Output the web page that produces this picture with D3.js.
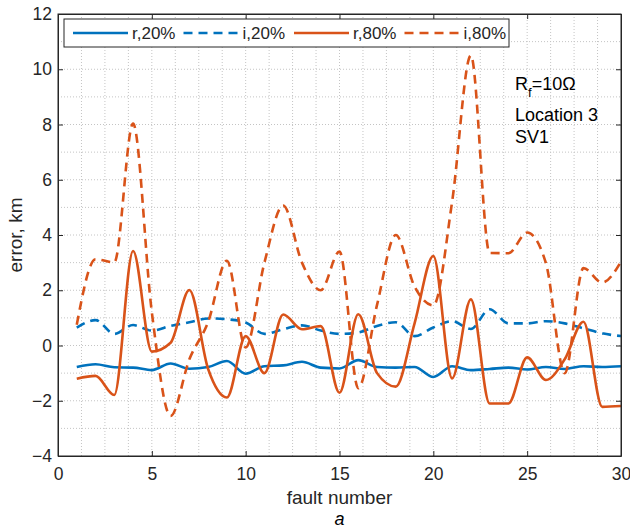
<!DOCTYPE html>
<html>
<head>
<meta charset="utf-8">
<script src="https://cdn.jsdelivr.net/npm/d3@7"></script>
<style>
  body { margin: 0; background: #fff; }
  svg { font-family: Arial, 'Liberation Sans', Helvetica, sans-serif; }
  .grid line { stroke: #c4c4c4; stroke-dasharray: 1,2; }
  .axis path, .axis line { stroke: #262626; }
  .axis text { fill: #262626; font-size: 17.5px; }
</style>
</head>
<body>
<svg width="630" height="531"></svg>
<script>
const FAULTS = [1, 2, 3, 4, 5, 6, 7, 8, 9, 10, 11, 12, 13, 14, 15, 16, 17, 18, 19, 20, 21, 22, 23, 24, 25, 26, 27, 28, 29, 30]
const R20 = [-0.78, -0.68, -0.79, -0.8, -0.89, -0.65, -0.84, -0.78, -0.56, -1.02, -0.75, -0.72, -0.59, -0.8, -0.83, -0.53, -0.78, -0.8, -0.78, -1.14, -0.75, -0.89, -0.85, -0.8, -0.87, -0.78, -0.85, -0.75, -0.78, -0.75]
const I20 = [0.65, 0.92, 0.42, 0.74, 0.54, 0.71, 0.84, 0.98, 0.95, 0.83, 0.42, 0.59, 0.73, 0.54, 0.42, 0.47, 0.71, 0.84, 0.34, 0.65, 0.88, 0.6, 1.31, 0.8, 0.8, 0.88, 0.8, 0.62, 0.44, 0.34]
const R80 = [-1.2, -1.1, -1.79, 3.42, -0.22, 0.1, 2.01, -0.85, -1.88, 0.34, -1.0, 1.12, 0.59, 0.7, -1.71, 1.13, -1.0, -1.49, 0.8, 3.24, -1.19, 1.67, -2.1, -2.1, -0.43, -1.25, -0.5, 0.86, -2.22, -2.19]
const I80 = [0.75, 3.12, 3.01, 8.03, 1.2, -2.55, -0.5, 0.85, 3.07, -0.07, 3.0, 5.07, 3.0, 2.0, 3.4, -1.55, 1.47, 4.0, 2.13, 1.45, 5.2, 10.5, 3.35, 3.34, 4.09, 2.98, -1.0, 2.8, 2.28, 3.04]

const X_TICKS = [0, 5, 10, 15, 20, 25, 30]
const Y_TICKS = [-4, -2, 0, 2, 4, 6, 8, 10, 12]
const X_MINOR = [1.25, 2.5, 3.75, 6.25, 7.5, 8.75, 11.25, 12.5, 13.75, 16.25, 17.5, 18.75, 21.25, 22.5, 23.75, 26.25, 27.5, 28.75]
const Y_MINOR = [-3, -1, 1, 3, 5, 7, 9, 11]

const BLUE = '#0072bd'
const ORANGE = '#d95319'

const SERIES = [
  { name: 'r,20%', values: R20, color: BLUE, dash: null },
  { name: 'i,20%', values: I20, color: BLUE, dash: '9,6' },
  { name: 'r,80%', values: R80, color: ORANGE, dash: null },
  { name: 'i,80%', values: I80, color: ORANGE, dash: '9,6' }
]

const margin = { top: 14, right: 9, bottom: 75, left: 58 }
const svg = d3.select('svg')
const width = +svg.attr('width') - margin.left - margin.right
const height = +svg.attr('height') - margin.top - margin.bottom

const x = d3.scaleLinear().domain([0, 30]).range([0, width])
const y = d3.scaleLinear().domain([-4, 12]).range([height, 0])

const g = svg.append('g').attr('transform', `translate(${margin.left},${margin.top})`)

// grid, minor + major, all dotted
const grid = g.append('g').attr('class', 'grid')
grid.selectAll('.vx')
  .data(X_MINOR.concat(X_TICKS.slice(1, -1)))
  .enter().append('line')
  .attr('x1', d => x(d)).attr('x2', d => x(d))
  .attr('y1', 0).attr('y2', height)
grid.selectAll('.hy')
  .data(Y_MINOR.concat(Y_TICKS.slice(1, -1)))
  .enter().append('line')
  .attr('y1', d => y(d)).attr('y2', d => y(d))
  .attr('x1', 0).attr('x2', width)

const line = d3.line()
  .x((d, i) => x(FAULTS[i]))
  .y(d => y(d))
  .curve(d3.curveMonotoneX)

g.append('g').selectAll('path')
  .data(SERIES)
  .enter().append('path')
  .attr('d', d => line(d.values))
  .attr('fill', 'none')
  .attr('stroke', d => d.color)
  .attr('stroke-width', 2.6)
  .attr('stroke-dasharray', d => d.dash)

// axes on all four sides, ticks pointing in
g.append('g').attr('class', 'axis')
  .attr('transform', `translate(0,${height})`)
  .call(d3.axisBottom(x).tickValues(X_TICKS).tickSize(-5).tickPadding(12).tickSizeOuter(0))
g.append('g').attr('class', 'axis')
  .call(d3.axisLeft(y).tickValues(Y_TICKS).tickSize(-5).tickPadding(6).tickSizeOuter(0))
g.append('g').attr('class', 'axis')
  .call(d3.axisTop(x).tickValues(X_TICKS).tickSize(-5).tickFormat('').tickSizeOuter(0))
g.append('g').attr('class', 'axis')
  .attr('transform', `translate(${width},0)`)
  .call(d3.axisRight(y).tickValues(Y_TICKS).tickSize(-5).tickFormat('').tickSizeOuter(0))
g.append('rect')
  .attr('width', width).attr('height', height)
  .attr('fill', 'none').attr('stroke', '#262626')

// legend
const legend = g.append('g').attr('transform', `translate(${64 - margin.left},${19 - margin.top})`)
legend.append('rect')
  .attr('width', 445).attr('height', 28)
  .attr('fill', '#fff').attr('stroke', '#262626')
const item = legend.selectAll('.item')
  .data(SERIES)
  .enter().append('g')
  .attr('transform', (d, i) => `translate(${9 + i * 110.5},14)`)
item.append('line')
  .attr('x1', 0).attr('x2', 55)
  .attr('stroke', d => d.color)
  .attr('stroke-width', 2.6)
  .attr('stroke-dasharray', d => d.dash)
item.append('text')
  .attr('x', 59).attr('y', 6)
  .attr('font-size', 17).attr('fill', '#262626')
  .text(d => d.name)

// annotation
const note = g.append('g').attr('font-size', 18).attr('fill', '#000')
const rf = note.append('text').attr('x', 515 - margin.left).attr('y', 90 - margin.top)
rf.append('tspan').text('R')
rf.append('tspan').attr('font-size', 13).attr('dy', 7).text('f')
rf.append('tspan').attr('dy', -7).text('=10Ω')
note.append('text').attr('x', 515 - margin.left).attr('y', 121 - margin.top).text('Location 3')
note.append('text').attr('x', 515 - margin.left).attr('y', 143 - margin.top).text('SV1')

// labels
svg.append('text')
  .attr('x', margin.left + width / 2).attr('y', 504)
  .attr('text-anchor', 'middle').attr('font-size', 19).attr('fill', '#262626')
  .text('fault number')
svg.append('text')
  .attr('transform', `translate(22,${margin.top + height / 2}) rotate(-90)`)
  .attr('text-anchor', 'middle').attr('font-size', 19).attr('fill', '#262626')
  .text('error, km')
svg.append('text')
  .attr('x', margin.left + width / 2).attr('y', 525)
  .attr('text-anchor', 'middle').attr('font-size', 18).attr('font-style', 'italic')
  .text('a')
</script>
</body>
</html>
